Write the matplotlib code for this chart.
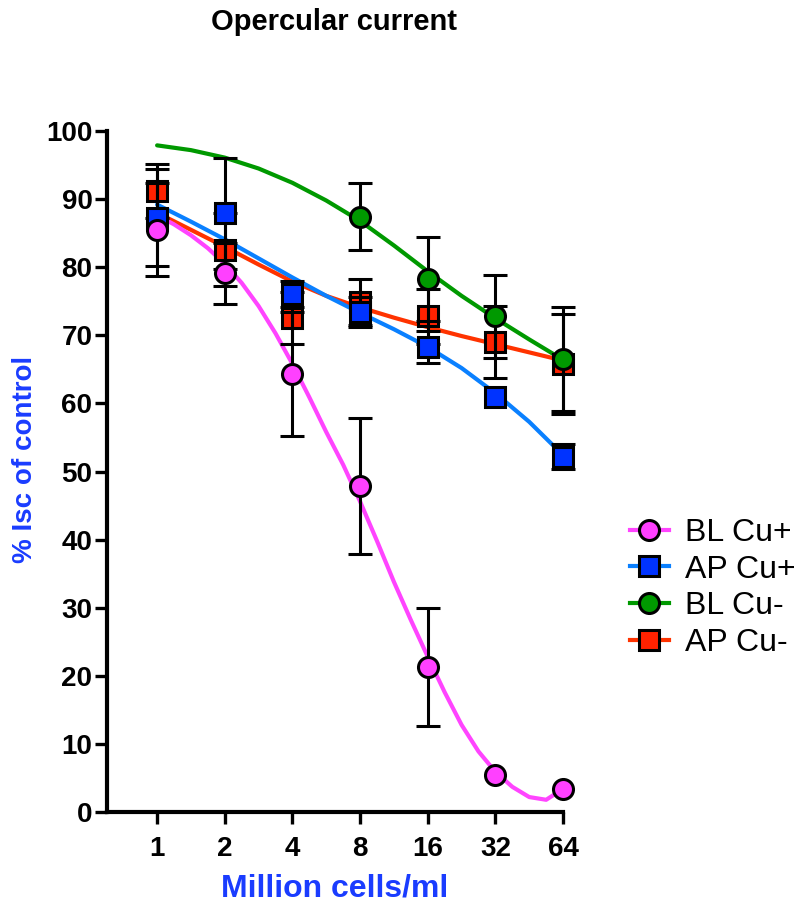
import matplotlib
matplotlib.use('Agg')
import matplotlib.pyplot as plt
from matplotlib.lines import Line2D
from matplotlib.ticker import NullLocator
import numpy as np

plt.rcParams['font.family'] = ['Liberation Sans', 'DejaVu Sans']

# cell density (million cells/ml)
conc = [1, 2, 4, 8, 16, 32, 64]
tick_labels = ['1', '2', '4', '8', '16', '32', '64']

# mean % Isc of control and SEM
bl_cu_plus = [85.5, 79.1, 64.3, 47.9, 21.3, 5.4, 3.4]
bl_cu_plus_err = [6.8, 4.5, 9.1, 9.95, 8.7, 0.0, 0.0]
ap_cu_plus = [87.3, 87.9, 76.1, 73.4, 68.3, 60.9, 52.2]
ap_cu_plus_err = [7.1, 8.2, 1.9, 2.2, 2.3, 0.0, 1.8]
bl_cu_minus_conc = [8, 16, 32, 64]
bl_cu_minus = [87.4, 78.3, 72.8, 66.5]
bl_cu_minus_err = [4.9, 6.2, 6.1, 7.6]
ap_cu_minus = [91.2, 82.6, 72.5, 74.9, 72.8, 69.0, 65.8]
ap_cu_minus_err = [4.0, 5.4, 3.8, 3.4, 4.0, 5.3, 7.3]

# fitted curves, sampled along log2(concentration)
fit_log2_half = [0, 0.5, 1, 1.5, 2, 2.5, 3, 3.5, 4, 4.5, 5, 5.5, 6]
fit_log2_quarter = [0, 0.25, 0.5, 0.75, 1, 1.25, 1.5, 1.75, 2, 2.25, 2.5, 2.75,
                    3, 3.25, 3.5, 3.75, 4, 4.25, 4.5, 4.75, 5, 5.25, 5.5, 5.75, 6]
fit_bl_cu_plus = [87.6, 86.3, 84.7, 82.8, 80.5, 77.7, 74.3, 70.3, 65.8, 60.9, 55.8, 51.0,
                  45.6, 39.8, 33.8, 28.2, 22.8, 17.6, 12.8, 8.9, 5.9, 3.7, 2.2, 1.8, 3.4]
fit_ap_cu_plus = [89.2, 86.7, 84.1, 81.3, 78.5, 75.8, 73.3, 70.9, 68.3, 65.2, 61.5, 57.3, 52.4]
fit_bl_cu_minus = [97.9, 97.2, 96.1, 94.5, 92.4, 89.8, 86.8, 83.2, 79.4, 75.8, 72.5, 69.4, 66.4]
fit_ap_cu_minus = [88.0, 85.5, 83.0, 80.4, 77.9, 75.8, 74.1, 72.6, 71.2, 69.9, 68.7, 67.5, 66.3]

label_blue = '#1a3cff'

series = [
    # label, x, y, err, fit x, fit y, marker, face, line colour, marker zorder
    ('AP Cu-', conc, ap_cu_minus, ap_cu_minus_err, fit_log2_half, fit_ap_cu_minus,
     's', '#ff2200', '#ff3300', 2.5),
    ('BL Cu-', bl_cu_minus_conc, bl_cu_minus, bl_cu_minus_err, fit_log2_half, fit_bl_cu_minus,
     'o', '#009900', '#009900', 4.0),
    ('AP Cu+', conc, ap_cu_plus, ap_cu_plus_err, fit_log2_half, fit_ap_cu_plus,
     's', '#0033ff', '#0a80ff', 4.1),
    ('BL Cu+', conc, bl_cu_plus, bl_cu_plus_err, fit_log2_quarter, fit_bl_cu_plus,
     'o', '#ff40ff', '#ff44ff', 4.2),
]

fig = plt.figure(figsize=(8.03, 9.07), dpi=100)
ax = fig.add_axes([0.1333, 0.1047, 0.5679, 0.7508])

ms, mew = 14.4, 2.2
handles = {}
for label, x, y, err, fx, fy, mk, face, lc, mz in series:
    ax.plot(2.0 ** np.array(fx), fy, color=lc, lw=3, zorder=2,
            solid_capstyle='round', solid_joinstyle='round', clip_on=False)
    # skip bars too short to show outside the symbol
    keep = [i for i, e in enumerate(err) if e > 0]
    eb = ax.errorbar([x[i] for i in keep], [y[i] for i in keep],
                     yerr=[err[i] for i in keep], fmt='none', ecolor='black',
                     elinewidth=2.2, capsize=8.4, capthick=2.2, zorder=3)
    for part in eb.get_children():
        part.set_clip_on(False)
    ax.plot(x, y, ls='none', marker=mk, ms=ms, mfc=face, mec='black', mew=mew,
            zorder=mz, clip_on=False)
    handles[label] = Line2D([], [], color=lc, lw=3, marker=mk, ms=ms, mfc=face,
                            mec='black', mew=mew)

ax.set_xscale('log', base=2)
ax.set_xlim(2 ** -0.74, 64)
ax.set_ylim(0, 100)
ax.set_xticks(conc)
ax.set_xticklabels(tick_labels)
ax.xaxis.set_minor_locator(NullLocator())
ax.set_yticks(range(0, 101, 10))

for side in ['top', 'right']:
    ax.spines[side].set_visible(False)
for side in ['left', 'bottom']:
    ax.spines[side].set_linewidth(3)

ax.tick_params(axis='both', direction='out', length=8.5, width=2.4, labelsize=20)
ax.tick_params(axis='y', pad=2)
ax.tick_params(axis='x', pad=9)
for t in ax.get_xticklabels() + ax.get_yticklabels():
    t.set_fontweight('bold')

ax.set_xlabel('Million cells/ml', fontsize=23, fontweight='bold', color=label_blue,
              labelpad=8)
ax.set_ylabel('% Isc of control', fontsize=20, fontweight='bold', color=label_blue,
              va='center')
ax.yaxis.set_label_coords(-0.18, 0.518)

fig.text(334 / 803, 1 - 22 / 907, 'Opercular current', ha='center', va='center',
         fontsize=21, fontweight='bold')

order = ['BL Cu+', 'AP Cu+', 'BL Cu-', 'AP Cu-']
fig.legend([handles[k] for k in order], order, loc='center left',
           bbox_to_anchor=(630 / 803, 1 - 588 / 907), frameon=False, fontsize=23,
           handlelength=1.22, handletextpad=0.5, labelspacing=0.21,
           borderpad=0, borderaxespad=0)

fig.savefig('out.png', dpi=100)
